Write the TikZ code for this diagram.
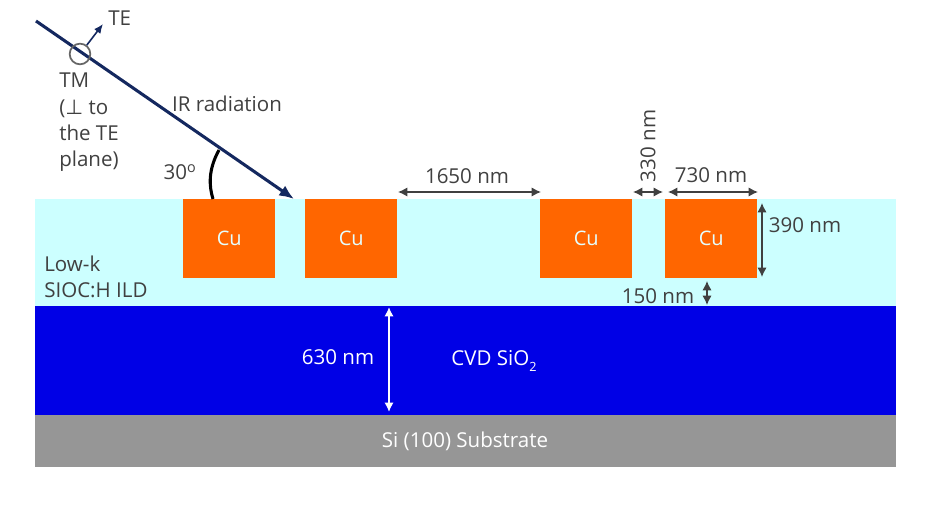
\documentclass[tikz,border=0pt]{standalone}
\usepackage{fontspec}
\setmainfont{Open Sans}
\newfontfamily\symfont{DejaVu Sans}
\usepackage{xcolor}
\definecolor{lowk}{HTML}{CCFFFF}
\definecolor{oxide}{HTML}{0000E6}
\definecolor{silicon}{HTML}{969696}
\definecolor{copper}{HTML}{FF6600}
\definecolor{beam}{HTML}{14285F}
\definecolor{textdark}{HTML}{404040}
\usetikzlibrary{arrows.meta,positioning,calc}

\begin{document}
\begin{tikzpicture}[
    x=0.75pt, y=-0.75pt,
    layer/.style={rectangle, anchor=north west, inner sep=0pt, minimum width=645.75pt},
    metal/.style={rectangle, fill=copper, text=lowk!50!white, font=\fontsize{15}{18}\selectfont, anchor=north west, inner sep=0pt, minimum width=69pt, minimum height=59pt},
    lbl/.style={font=\fontsize{15.4}{19.6}\selectfont, text=textdark, inner sep=0pt},
    whitelbl/.style={font=\fontsize{15.4}{19.6}\selectfont, text=white, inner sep=0pt},
    dim/.style={{Latex[length=7pt,width=7pt]}-{Latex[length=7pt,width=7pt]}, draw=textdark, line width=1.1pt},
    ray/.style={draw=beam, line width=2.3pt}
  ]
    \useasboundingbox (0,0) rectangle (950,509);
    % stack
    \node[layer, fill=lowk, minimum height=80.25pt] (ild) at (35,199) {};
    \node[layer, fill=oxide, minimum height=81.75pt] (sio) at (35,306) {};
    \node[layer, fill=silicon, minimum height=39pt] (si) at (35,415) {};
    \foreach \x/\name in {183/cua, 305/cub, 540/cuc, 665/cud} {
      \node[metal] (\name) at (\x,199) {Cu};
    }
    \node[lbl, align=left, anchor=north west] (ildtext) at (44,256) {Low-k\\SIOC:H ILD};
    \node[whitelbl] (siotext) at (494,361) {CVD SiO\raisebox{-4pt}{\fontsize{9.5}{10}\selectfont 2}};
    \node[whitelbl] (sitext) at (465,441) {Si (100) Substrate};
    % beam
    \coordinate (rayin) at (36,21);
    \coordinate (rayend) at (294,199);
    \coordinate (tmpoint) at (80,54);
    \coordinate (tetip) at (103,24);
    \coordinate (angtop) at (219,150);
    \draw[ray, -{Latex[length=11pt,width=9pt]}] (rayin) -- (rayend);
    \node[circle, draw=black!60, line width=1.3pt, minimum size=15.5pt, inner sep=0pt] (tmring) at (tmpoint) {};
    \draw[draw=beam, line width=1.2pt, -{Latex[length=7pt,width=6pt]}] (tmring) -- (tetip);
    \draw[black, line width=2.3pt] (angtop) .. controls (208,170) and (209,186) .. (cua.north west -| 213,199);
    \node[lbl, anchor=west] (tetext) at (108,18) {TE};
    \node[lbl, align=left, anchor=north west] (tmtext) at (59,73) {TM\\(\symfont⊥\rmfamily\ to\\the TE\\plane)};
    \node[lbl] (irtext) at (227,104) {IR radiation};
    \node[lbl] (angtext) at (180,172) {30\textsuperscript{o}};
    % dimensions
    \coordinate (gapa) at (398,192);
    \coordinate (gapb) at (541,192);
    \coordinate (gapc) at (633,192);
    \coordinate (gapd) at (663,192);
    \coordinate (wida) at (668,192);
    \coordinate (widb) at (758,192);
    \coordinate (hita) at (762,203);
    \coordinate (hitb) at (762,277);
    \coordinate (lowa) at (707,281);
    \coordinate (lowb) at (707,305);
    \coordinate (oxa) at (389,307);
    \coordinate (oxb) at (389,412);
    \draw[dim] (gapa) -- (gapb);
    \draw[dim] (gapc) -- (gapd);
    \draw[dim] (wida) -- (widb);
    \draw[dim] (hita) -- (hitb);
    \draw[dim] (lowa) -- (lowb);
    \draw[{Latex[length=7pt,width=7pt]}-{Latex[length=7pt,width=7pt]}, draw=white, line width=1.4pt] (oxa) -- (oxb);
    \node[lbl] (gaplabel) at (467,176) {1650 nm};
    \node[lbl, rotate=90] (spacelabel) at (648,146) {330 nm};
    \node[lbl] (widlabel) at (711,175) {730 nm};
    \node[lbl] (hitlabel) at (805,225) {390 nm};
    \node[lbl] (lowlabel) at (658,296) {150 nm};
    \node[whitelbl] (oxlabel) at (338,357) {630 nm};
\end{tikzpicture}
\end{document}
